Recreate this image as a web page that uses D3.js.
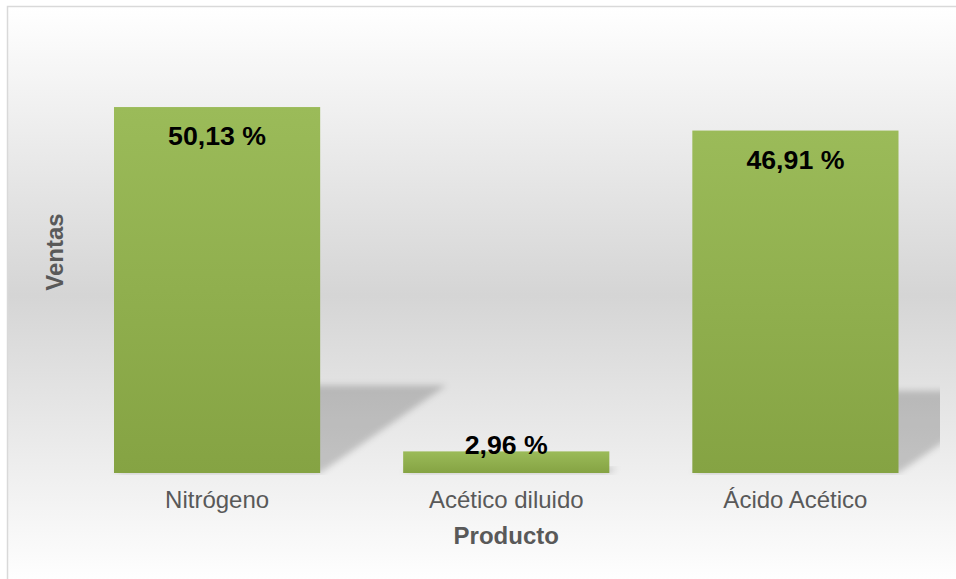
<!DOCTYPE html>
<html>
<head>
<meta charset="utf-8">
<script src="https://cdn.jsdelivr.net/npm/d3@7"></script>
<style>
  html, body { margin: 0; padding: 0; background: #ffffff; }
  svg { display: block; }
  text { font-family: "Liberation Sans", Arial, Helvetica, sans-serif; }
</style>
</head>
<body>
<svg id="chart" width="956" height="579"></svg>
<script>
// Sales share by product (percent)
const categories = ["Nitrógeno", "Acético diluido", "Ácido Acético"];
const values = [50.13, 2.96, 46.91];
const valueLabels = ["50,13 %", "2,96 %", "46,91 %"];
const xTitle = "Producto";
const yTitle = "Ventas";

const W = 956, H = 579;
const svg = d3.select("#chart");
const defs = svg.append("defs");

// chart area background: white -> grey -> white
const bg = defs.append("linearGradient").attr("id", "bgGrad")
  .attr("x1", 0).attr("y1", 0).attr("x2", 0).attr("y2", 1);
bg.append("stop").attr("offset", "0%").attr("stop-color", "#ffffff");
bg.append("stop").attr("offset", "50%").attr("stop-color", "#d5d5d5");
bg.append("stop").attr("offset", "100%").attr("stop-color", "#ffffff");

// bar fill gradient
const barGrad = defs.append("linearGradient").attr("id", "barGrad")
  .attr("x1", 0).attr("y1", 0).attr("x2", 0).attr("y2", 1);
barGrad.append("stop").attr("offset", "0%").attr("stop-color", "#9bbb59");
barGrad.append("stop").attr("offset", "100%").attr("stop-color", "#85a343");

// soft blur for the perspective shadows
const blur = defs.append("filter").attr("id", "shadowBlur")
  .attr("x", "-20%").attr("y", "-20%").attr("width", "140%").attr("height", "140%");
blur.append("feGaussianBlur").attr("stdDeviation", 3);

// chart area frame
const chartTop = 6.5, chartLeft = 7.5;
svg.append("rect")
  .attr("x", chartLeft).attr("y", chartTop)
  .attr("width", 960).attr("height", 578)
  .attr("fill", "url(#bgGrad)")
  .attr("stroke", "#d9d9d9").attr("stroke-width", 1.5);

// plot area
const plot = { left: 72.5, right: 940, top: 35, bottom: 473 };

defs.append("clipPath").attr("id", "plotClip")
  .append("rect")
  .attr("x", plot.left).attr("y", 0)
  .attr("width", plot.right - plot.left).attr("height", plot.bottom + 2);

const x = d3.scaleBand()
  .domain(categories)
  .range([plot.left, plot.right])
  .paddingInner(0.287)
  .paddingOuter(0.1435);

const y = d3.scaleLinear()
  .domain([0, 60])
  .range([plot.bottom, plot.top]);

const data = categories.map((c, i) => ({ cat: c, value: values[i], label: valueLabels[i] }));

// perspective shadows cast to the right of each bar
const shadowScale = 0.24, shear = 1.44;
svg.append("g")
  .attr("clip-path", "url(#plotClip)")
  .selectAll("path")
  .data(data)
  .join("path")
  .attr("d", d => {
    const x0 = x(d.cat), x1 = x0 + x.bandwidth();
    const base = y(0);
    const hs = (base - y(d.value)) * shadowScale;
    const dx = hs * shear;
    return `M${x0},${base}L${x1},${base}L${x1 + dx},${base - hs}L${x0 + dx},${base - hs}Z`;
  })
  .attr("fill", "#000")
  .attr("fill-opacity", 0.19)
  .attr("filter", "url(#shadowBlur)");

// bars
svg.append("g")
  .selectAll("rect")
  .data(data)
  .join("rect")
  .attr("x", d => x(d.cat))
  .attr("y", d => y(d.value))
  .attr("width", x.bandwidth())
  .attr("height", d => y(0) - y(d.value))
  .attr("fill", "url(#barGrad)");

// value labels (inside end)
svg.append("g")
  .selectAll("text")
  .data(data)
  .join("text")
  .attr("x", d => x(d.cat) + x.bandwidth() / 2)
  .attr("y", d => Math.min(y(d.value) + 38, y(0) - 19))
  .attr("text-anchor", "middle")
  .attr("font-size", "26.7px")
  .attr("font-weight", "bold")
  .attr("fill", "#000000")
  .text(d => d.label);

// category axis (no line, labels only)
const xAxis = svg.append("g")
  .attr("transform", `translate(0,${plot.bottom})`)
  .call(d3.axisBottom(x).tickSize(0).tickPadding(0));
xAxis.select(".domain").remove();
xAxis.selectAll("text")
  .attr("y", 35)
  .attr("dy", null)
  .attr("font-size", "24px")
  .attr("font-family", "\"Liberation Sans\", Arial, Helvetica, sans-serif")
  .attr("fill", "#595959");

// axis titles
svg.append("text")
  .attr("x", (plot.left + plot.right) / 2)
  .attr("y", 544)
  .attr("text-anchor", "middle")
  .attr("font-size", "24px")
  .attr("font-weight", "bold")
  .attr("fill", "#595959")
  .text(xTitle);

svg.append("text")
  .attr("transform", `translate(63,252) rotate(-90)`)
  .attr("text-anchor", "middle")
  .attr("font-size", "24px")
  .attr("font-weight", "bold")
  .attr("fill", "#595959")
  .text(yTitle);
</script>
</body>
</html>
